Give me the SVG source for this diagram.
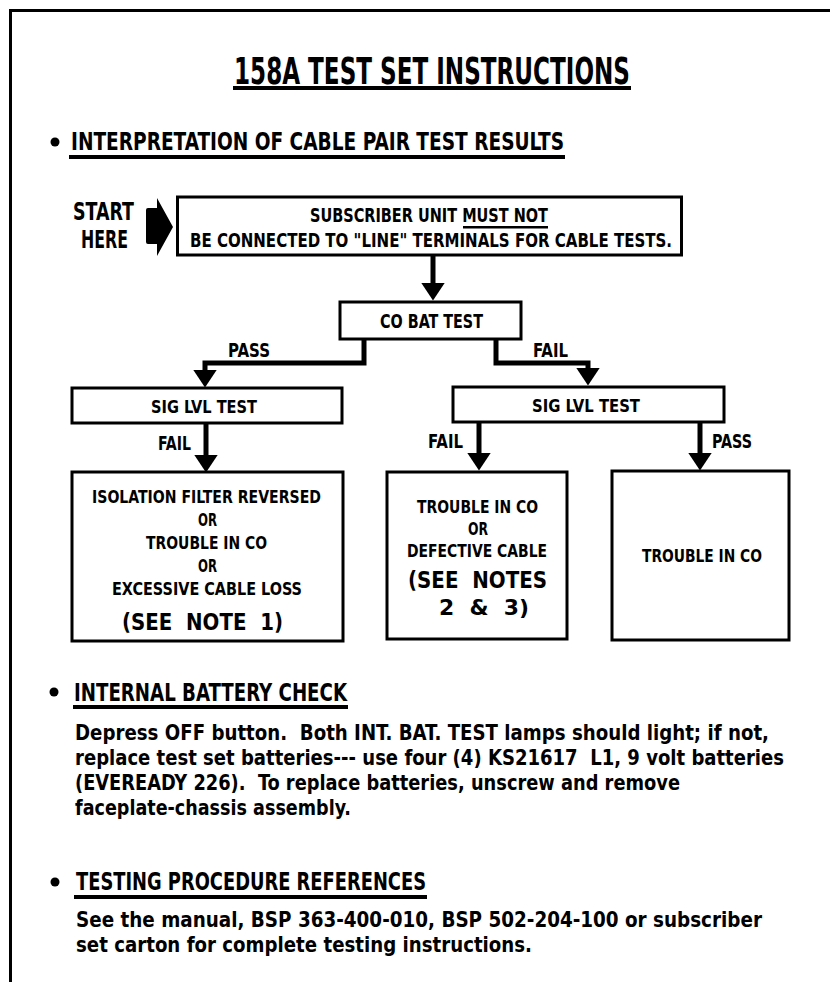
<svg xmlns="http://www.w3.org/2000/svg" width="830" height="982" viewBox="0 0 830 982">
<defs>
<style>
.t{font-family:"Liberation Sans Narrow","DejaVu Sans Condensed","Liberation Sans",Arial,sans-serif;font-weight:bold;fill:#000}
.g{font-family:"DejaVu Sans","Liberation Sans",sans-serif;font-weight:bold;fill:#000}
.b{font-size:21.5px}
.box{fill:#fff;stroke:#000;stroke-width:3}
.conn{fill:none;stroke:#000;stroke-width:5;stroke-linejoin:miter}
.ul{fill:#000}
</style>
<marker id="ah" markerUnits="userSpaceOnUse" markerWidth="18" markerHeight="24" viewBox="0 0 18 24" refX="0.5" refY="12" orient="auto">
<path d="M0,0 L18,12 L0,24 Z" fill="#000"/>
</marker>
</defs>
<rect width="830" height="982" fill="#fff"/>
<path d="M10.5,982 V10.5 H830" fill="none" stroke="#000" stroke-width="3"/>

<g id="title">
<text class="t" x="234" y="84" font-size="37" textLength="396" lengthAdjust="spacingAndGlyphs">158A TEST SET INSTRUCTIONS</text>
<rect class="ul" x="233" y="86" width="398" height="4"/>
</g>

<g id="heading-interpretation">
<circle cx="55" cy="142" r="4.5"/>
<text class="t" x="71" y="150" font-size="25" textLength="493" lengthAdjust="spacingAndGlyphs">INTERPRETATION OF CABLE PAIR TEST RESULTS</text>
<rect class="ul" x="69" y="155" width="496" height="4"/>
</g>

<g id="start">
<text class="t" x="73" y="220" font-size="24" textLength="61" lengthAdjust="spacingAndGlyphs">START</text>
<text class="t" x="81" y="248" font-size="24" textLength="47" lengthAdjust="spacingAndGlyphs">HERE</text>
<path d="M146,210 Q146,208 148,208 L157,208 L157,198 L173,227 L157,256 L157,244 L148,244 Q146,244 146,242 Z" fill="#000"/>
</g>

<g id="connectors">
<path class="conn" d="M433,255 V283" marker-end="url(#ah)"/>
<path class="conn" d="M364,339 V363 H205 V370" marker-end="url(#ah)"/>
<path class="conn" d="M496,339 V363 H588 V368" marker-end="url(#ah)"/>
<path class="conn" d="M206,423 V455" marker-end="url(#ah)"/>
<path class="conn" d="M479,422 V453" marker-end="url(#ah)"/>
<path class="conn" d="M700,422 V453" marker-end="url(#ah)"/>
</g>

<g id="labels">
<text class="t" x="228" y="357" font-size="19" textLength="42" lengthAdjust="spacingAndGlyphs">PASS</text>
<text class="t" x="533" y="357" font-size="19" textLength="35" lengthAdjust="spacingAndGlyphs">FAIL</text>
<text class="t" x="158" y="450" font-size="19" textLength="33" lengthAdjust="spacingAndGlyphs">FAIL</text>
<text class="t" x="428" y="448" font-size="19" textLength="35" lengthAdjust="spacingAndGlyphs">FAIL</text>
<text class="t" x="712" y="448" font-size="19" textLength="40" lengthAdjust="spacingAndGlyphs">PASS</text>
</g>

<g id="box-subscriber">
<rect class="box" x="177.5" y="197" width="504" height="58"/>
<text class="t" x="310" y="222" font-size="20" textLength="238" lengthAdjust="spacingAndGlyphs">SUBSCRIBER UNIT MUST NOT</text>
<rect class="ul" x="463" y="226" width="85" height="2.5"/>
<text class="t" x="190" y="247" font-size="20" textLength="482" lengthAdjust="spacingAndGlyphs">BE CONNECTED TO "LINE" TERMINALS FOR CABLE TESTS.</text>
</g>

<g id="box-cobat">
<rect class="box" x="340" y="302" width="181" height="37"/>
<text class="t" x="380" y="328" font-size="20" textLength="103" lengthAdjust="spacingAndGlyphs">CO BAT TEST</text>
</g>

<g id="box-sig-left">
<rect class="box" x="72" y="388" width="270" height="35"/>
<text class="t" x="151" y="413" font-size="18" textLength="106" lengthAdjust="spacingAndGlyphs">SIG LVL TEST</text>
</g>

<g id="box-sig-right">
<rect class="box" x="453" y="387" width="271" height="35"/>
<text class="t" x="532" y="412" font-size="18" textLength="108" lengthAdjust="spacingAndGlyphs">SIG LVL TEST</text>
</g>

<g id="box-result-left">
<rect class="box" x="72" y="472" width="271" height="169"/>
<text class="t" x="92" y="503" font-size="18" textLength="229" lengthAdjust="spacingAndGlyphs">ISOLATION FILTER REVERSED</text>
<text class="t" x="198" y="526" font-size="18" textLength="19" lengthAdjust="spacingAndGlyphs">OR</text>
<text class="t" x="146" y="549" font-size="18" textLength="121" lengthAdjust="spacingAndGlyphs">TROUBLE IN CO</text>
<text class="t" x="198" y="572" font-size="18" textLength="19" lengthAdjust="spacingAndGlyphs">OR</text>
<text class="t" x="112" y="595" font-size="18" textLength="190" lengthAdjust="spacingAndGlyphs">EXCESSIVE CABLE LOSS</text>
<text class="g" x="122" y="630" font-size="23" textLength="161" lengthAdjust="spacingAndGlyphs" xml:space="preserve">(SEE  NOTE  1)</text>
</g>

<g id="box-result-middle">
<rect class="box" x="387" y="472" width="180" height="167"/>
<text class="t" x="417" y="513" font-size="18" textLength="121" lengthAdjust="spacingAndGlyphs">TROUBLE IN CO</text>
<text class="t" x="468" y="535" font-size="18" textLength="20" lengthAdjust="spacingAndGlyphs">OR</text>
<text class="t" x="407" y="557" font-size="18" textLength="140" lengthAdjust="spacingAndGlyphs">DEFECTIVE CABLE</text>
<text class="g" x="408" y="588" font-size="23" textLength="139" lengthAdjust="spacingAndGlyphs" xml:space="preserve">(SEE  NOTES</text>
<text class="g" x="439" y="615" font-size="21" textLength="90" lengthAdjust="spacingAndGlyphs" xml:space="preserve">2  &amp;  3)</text>
</g>

<g id="box-result-right">
<rect class="box" x="612" y="471" width="177" height="169"/>
<text class="t" x="642" y="562" font-size="18" textLength="120" lengthAdjust="spacingAndGlyphs">TROUBLE IN CO</text>
</g>

<g id="section-battery">
<circle cx="54" cy="692" r="4.5"/>
<text class="t" x="74" y="701" font-size="24" textLength="273" lengthAdjust="spacingAndGlyphs">INTERNAL BATTERY CHECK</text>
<rect class="ul" x="73" y="705" width="275" height="4"/>
<text class="t b" x="75" y="740" textLength="694" lengthAdjust="spacingAndGlyphs" xml:space="preserve">Depress OFF button.  Both INT. BAT. TEST lamps should light; if not,</text>
<text class="t" x="75" y="765" font-size="20.5" textLength="709" lengthAdjust="spacingAndGlyphs" xml:space="preserve">replace test set batteries--- use four (4) KS21617  L1, 9 volt batteries</text>
<text class="t b" x="75" y="790" textLength="605" lengthAdjust="spacingAndGlyphs" xml:space="preserve">(EVEREADY 226).  To replace batteries, unscrew and remove</text>
<text class="t b" x="75" y="815" textLength="276" lengthAdjust="spacingAndGlyphs">faceplate-chassis assembly.</text>
</g>

<g id="section-references">
<circle cx="55" cy="882" r="4.5"/>
<text class="t" x="76" y="890" font-size="24" textLength="350" lengthAdjust="spacingAndGlyphs">TESTING PROCEDURE REFERENCES</text>
<rect class="ul" x="74" y="895" width="353" height="4"/>
<text class="t b" x="76" y="927" textLength="686" lengthAdjust="spacingAndGlyphs">See the manual, BSP 363-400-010, BSP 502-204-100 or subscriber</text>
<text class="t b" x="76" y="952" textLength="456" lengthAdjust="spacingAndGlyphs">set carton for complete testing instructions.</text>
</g>
</svg>
